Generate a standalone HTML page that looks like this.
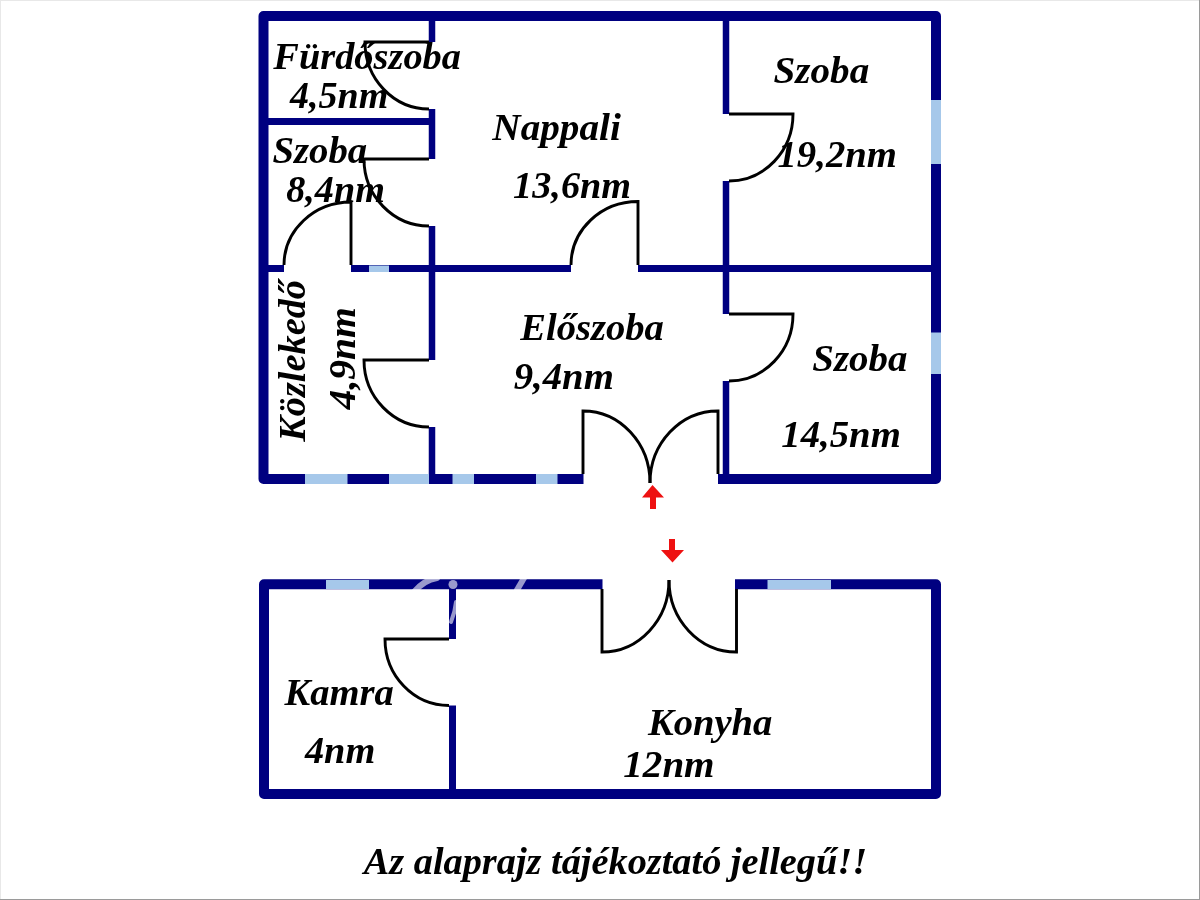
<!DOCTYPE html>
<html><head><meta charset="utf-8">
<style>
html,body{margin:0;padding:0;background:#fff;}
body{width:1200px;height:900px;overflow:hidden;position:relative;}
svg{position:absolute;left:0;top:0;display:block;will-change:transform;}
text{font-family:"Liberation Serif",serif;font-weight:bold;font-style:italic;fill:#000;font-kerning:none;}
</style></head>
<body>
<svg width="1200" height="900" viewBox="0 0 1200 900">
<rect x="0" y="0" width="1200" height="900" fill="#fff"/>
<!-- frame -->
<rect x="0" y="0" width="1200" height="1" fill="#e8e8e8"/>
<rect x="0" y="0" width="1" height="900" fill="#e8e8e8"/>
<rect x="1199" y="0" width="1" height="900" fill="#9a9a9a"/>
<rect x="0" y="899" width="1200" height="1" fill="#9a9a9a"/>

<g id="walls" fill="none" stroke="#000080" stroke-linejoin="round" stroke-linecap="butt">
  <!-- upper outer walls -->
  <path d="M583.5,479 H263.5 V16 H936 V479 H718" stroke-width="10"/>
  <!-- inner vertical A x=432 -->
  <path d="M432,21 V42 M432,109 V159 M432,226 V360 M432,427 V474" stroke-width="6.5"/>
  <!-- horizontal B -->
  <path d="M268,121.5 H435" stroke-width="7"/>
  <!-- horizontal C -->
  <path d="M268,268.6 H284 M351,268.6 H571 M638,268.6 H931" stroke-width="7"/>
  <!-- inner vertical D x=726 -->
  <path d="M726,21 V114 M726,181 V314 M726,381 V474" stroke-width="6.5"/>
  <!-- lower outer walls -->
  <path d="M602.5,584.25 H264 V794 H936 V584.25 H735" stroke-width="10"/>
  <!-- lower inner vertical x=452.5 -->
  <path d="M452.5,589 V639 M452.5,705.5 V789" stroke-width="7"/>
</g>

<g id="windows" fill="#a6c8ea">
  <rect x="305" y="474" width="42.5" height="10"/>
  <rect x="389" y="474" width="40" height="10"/>
  <rect x="452.5" y="474" width="21.5" height="10"/>
  <rect x="536" y="474" width="21.5" height="10"/>
  <rect x="369" y="265.5" width="20" height="6.5"/>
  <rect x="931" y="100" width="10" height="64"/>
  <rect x="931" y="332.5" width="10" height="41.5"/>
  <rect x="326" y="580" width="43" height="9"/>
  <rect x="767.5" y="580" width="63.5" height="9"/>
</g>
<g id="watermark" fill="none" stroke="#ffffff" stroke-opacity="0.6" stroke-linecap="round">
  <path d="M414,592 Q424,580 437,578" stroke-width="6"/>
  <circle cx="453" cy="584.5" r="4.5" fill="#ffffff" fill-opacity="0.6" stroke="none"/>
  <path d="M451,622 Q455,612 456,602" stroke-width="4"/>
  <path d="M517,590 L524,578" stroke-width="6"/>
</g>

<g id="doors" fill="none" stroke="#000" stroke-width="2.9">
  <!-- Furdoszoba door -->
  <path d="M429,42 H365 A64,67 0 0 0 429,109"/>
  <!-- Szoba left door -->
  <path d="M429,159 H364 A65,67 0 0 0 429,226"/>
  <!-- Kozlekedo door from top -->
  <path d="M351,265 V202 A67,63 0 0 0 284,265"/>
  <!-- Kozlekedo -> Eloszoba door -->
  <path d="M429,360 H364 A65,67 0 0 0 429,427"/>
  <!-- Nappali door -->
  <path d="M638,265 V201.5 A67,63.5 0 0 0 571,265"/>
  <!-- Szoba right top door -->
  <path d="M729,114 H793 A64,67 0 0 1 729,181"/>
  <!-- Szoba right lower door -->
  <path d="M729,314 H793 A64,67 0 0 1 729,381"/>
  <!-- Main double door -->
  <path d="M583,474 V411 A67,72 0 0 1 650,483"/>
  <path d="M718,474 V411 A68,72 0 0 0 650,483"/>
  <!-- Kamra door -->
  <path d="M449,639 H385 A64,66.5 0 0 0 449,705.5"/>
  <!-- lower double door -->
  <path d="M602,589 V652 A67,72 0 0 0 669,580"/>
  <path d="M736.5,589 V652 A67.5,72 0 0 1 669,580"/>
</g>

<g id="arrows" fill="#ee1111">
  <path d="M652.5,485 L664,497.5 H656 V509 H650 V497.5 H642 Z"/>
  <path d="M669,539 H675 V550 H684 L672.5,562.5 L661,550 H669 Z"/>
</g>

<g id="labels">
  <text transform="translate(273.34,68.70) scale(1.0099,1)" font-size="38.00">Fürdőszoba</text>
  <text transform="translate(290.09,108.00) scale(1.0003,1)" font-size="38.00">4,5nm</text>
  <text transform="translate(272.40,162.50) scale(1.0200,1)" font-size="38.00">Szoba</text>
  <text transform="translate(286.21,201.90) scale(1.0054,1)" font-size="38.00">8,4nm</text>
  <text transform="translate(492.36,140.30) scale(1.0317,1)" font-size="38.00">Nappali</text>
  <text transform="translate(513.10,198.30) scale(1.0071,1)" font-size="38.00">13,6nm</text>
  <text transform="translate(773.59,83.25) scale(1.0293,1)" font-size="38.00">Szoba</text>
  <text transform="translate(777.49,167.30) scale(1.0194,1)" font-size="38.00">19,2nm</text>
  <text transform="translate(520.18,339.70) scale(1.0160,1)" font-size="38.00">Előszoba</text>
  <text transform="translate(513.63,389.20) scale(1.0207,1)" font-size="38.00">9,4nm</text>
  <text transform="translate(812.30,371.00) scale(1.0238,1)" font-size="38.00">Szoba</text>
  <text transform="translate(781.34,446.75) scale(1.0189,1)" font-size="38.00">14,5nm</text>
  <text transform="translate(284.48,704.70) scale(1.0153,1)" font-size="38.00">Kamra</text>
  <text transform="translate(304.90,762.70) scale(1.0092,1)" font-size="38.00">4nm</text>
  <text transform="translate(647.88,735.40) scale(1.0168,1)" font-size="38.00">Konyha</text>
  <text transform="translate(623.28,776.50) scale(1.0293,1)" font-size="38.00">12nm</text>
  <text transform="translate(363.68,874.20) scale(1.0357,1)" font-size="37.00">Az alaprajz tájékoztató jellegű!!</text>
  <text transform="translate(305.00,441.72) rotate(-90) scale(1.0082,1)" font-size="38.00">Közlekedő</text>
  <text transform="translate(355.00,409.38) rotate(-90) scale(1.0416,1)" font-size="38.00">4,9nm</text>
</g>
</svg>
</body></html>
